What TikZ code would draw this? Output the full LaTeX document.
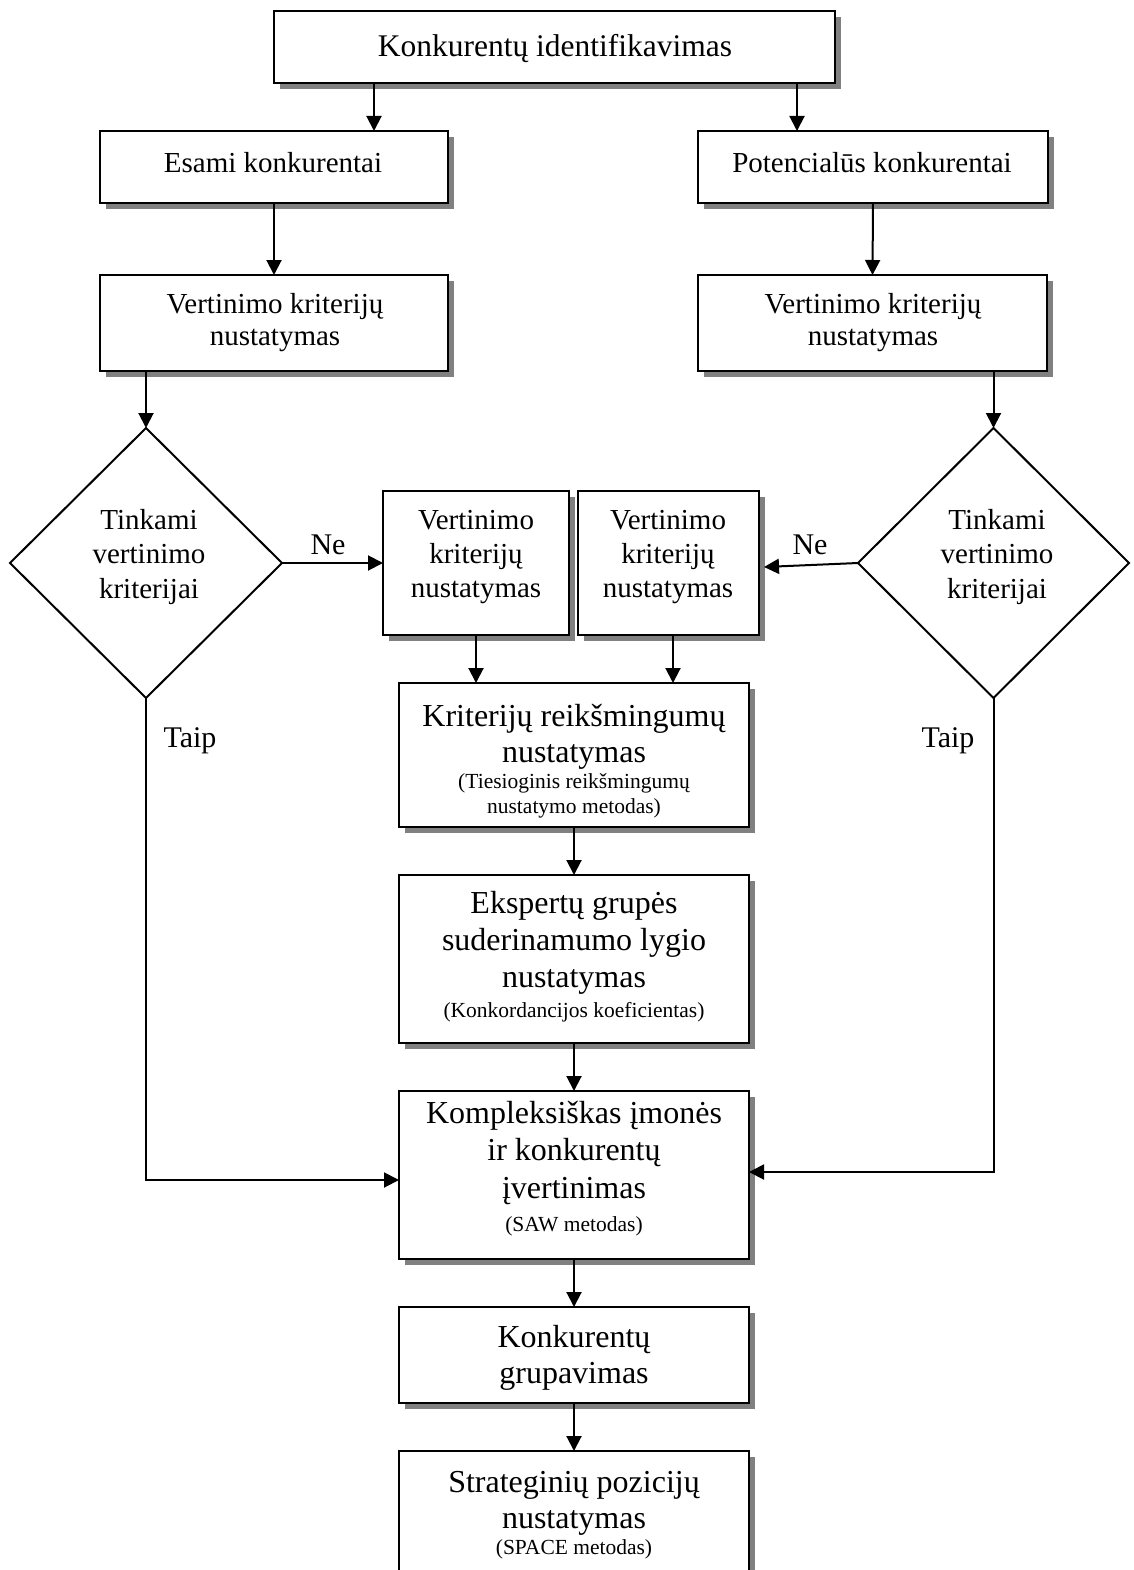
\documentclass[tikz,border=0pt]{standalone}
\usepackage{fontspec}
\setmainfont{Liberation Serif}
\usetikzlibrary{arrows.meta,shapes.geometric,shadows}
\begin{document}
\begin{tikzpicture}[x=1pt,y=-1pt,
  box/.style={draw, line width=2.2pt, fill=white, inner sep=0pt, outer sep=0pt,
    drop shadow={shadow xshift=6pt, shadow yshift=-6pt, opacity=1, fill=black!50}},
  decision/.style={draw, diamond, line width=2pt, inner sep=0pt, outer sep=0pt, fill=white},
  txt/.style={align=center, inner sep=0pt, font=\fontsize{29}{32}\selectfont},
  bigtxt/.style={align=center, inner sep=0pt, font=\fontsize{32}{36.5}\selectfont},
  smalltxt/.style={align=center, inner sep=0pt, font=\fontsize{21.5}{25}\selectfont},
  lbl/.style={inner sep=0pt, font=\fontsize{30}{34}\selectfont},
  arr/.style={line width=2pt, -{Triangle[length=15pt,width=15pt]}},
  conn/.style={line width=2pt}
]
% page
\fill[white] (0,0) rectangle (1133,1570);
\useasboundingbox (0,0) rectangle (1133,1570);
\clip (0,0) rectangle (1133,1570);

% boxes and decisions
\node[box, minimum width=561pt, minimum height=72pt] (top) at (554.5,47) {};
\node[box, minimum width=348pt, minimum height=72pt] (esami) at (274,167) {};
\node[box, minimum width=350pt, minimum height=72pt] (pot) at (873,167) {};
\node[box, minimum width=348pt, minimum height=96pt] (verL) at (274,323) {};
\node[box, minimum width=349pt, minimum height=96pt] (verR) at (872.5,323) {};
\node[decision, minimum width=272pt, minimum height=270pt] (dL) at (146,563) {};
\node[decision, minimum width=271pt, minimum height=270pt] (dR) at (993.5,563) {};
\node[box, minimum width=186pt, minimum height=144pt] (midL) at (476,563) {};
\node[box, minimum width=181pt, minimum height=144pt] (midR) at (668.5,563) {};
\node[box, minimum width=350pt, minimum height=144pt] (krit) at (574,755) {};
\node[box, minimum width=350pt, minimum height=168pt] (eksp) at (574,959) {};
\node[box, minimum width=350pt, minimum height=168pt] (komp) at (574,1175) {};
\node[box, minimum width=350pt, minimum height=96pt] (grup) at (574,1355) {};
\node[box, minimum width=350pt, minimum height=168pt] (strat) at (574,1535) {};

% texts
\node[txt, font=\fontsize{31.5}{36}\selectfont] (topT) at (555,49) {Konkurentų identifikavimas};
\node[txt] (esamiT) at (273,163) {Esami konkurentai};
\node[txt] (potT) at (872,163) {Potencialūs konkurentai};
\node[txt] (verLT) at (275,323) {Vertinimo kriterijų\\nustatymas};
\node[txt] (verRT) at (873,323) {Vertinimo kriterijų\\nustatymas};
\node[txt, font=\fontsize{29}{34.5}\selectfont] (dLT) at (149,557) {Tinkami\\vertinimo\\kriterijai};
\node[txt, font=\fontsize{29}{34.5}\selectfont] (dRT) at (997,557) {Tinkami\\vertinimo\\kriterijai};
\node[txt, font=\fontsize{29}{34}\selectfont] (midLT) at (476,557.5) {Vertinimo\\kriterijų\\nustatymas};
\node[txt, font=\fontsize{29}{34}\selectfont] (midRT) at (668,557.5) {Vertinimo\\kriterijų\\nustatymas};
\node[bigtxt] (kritT) at (574,737) {Kriterijų reikšmingumų\\nustatymas};
\node[smalltxt] (kritS) at (574,796) {(Tiesioginis reikšmingumų\\nustatymo metodas)};
\node[bigtxt, font=\fontsize{32}{37}\selectfont] (ekspT) at (574,943) {Ekspertų grupės\\suderinamumo lygio\\nustatymas};
\node[smalltxt] (ekspS) at (574,1012) {(Konkordancijos koeficientas)};
\node[bigtxt, font=\fontsize{32}{37.5}\selectfont] (kompT) at (574,1153) {Kompleksiškas įmonės\\ir konkurentų\\įvertinimas};
\node[smalltxt] (kompS) at (574,1226) {(SAW metodas)};
\node[bigtxt, font=\fontsize{32}{35.5}\selectfont] (grupT) at (574,1358) {Konkurentų\\grupavimas};
\node[bigtxt, font=\fontsize{32}{36}\selectfont] (stratT) at (574,1503) {Strateginių pozicijų\\nustatymas};
\node[smalltxt] (stratS) at (574,1549) {(SPACE metodas)};

% edge labels
\node[lbl] (neL) at (328,545) {Ne};
\node[lbl] (neR) at (810,545) {Ne};
\node[lbl] (taipL) at (190,741) {Taip};
\node[lbl] (taipR) at (948,741) {Taip};

% connector ends
\coordinate (toEsami) at ([xshift=100pt]esami.north);
\coordinate (toPot) at ([xshift=-76pt]pot.north);
\coordinate (fromMidR) at ([xshift=4.5pt]midR.south);
\coordinate (neTip) at ([xshift=5pt,yshift=-4pt]midR.east);
\coordinate (taipTipL) at ([yshift=-5pt]komp.west);
\coordinate (taipTipR) at ([yshift=3pt]komp.east);

% connectors
\draw[arr] (toEsami |- top.south) -- (toEsami);
\draw[arr] (toPot |- top.south) -- (toPot);
\draw[arr] (esami.south) -- (verL.north);
\draw[arr] (pot.south) -- (verR.north);
\draw[arr] (dL.north |- verL.south) -- (dL.north);
\draw[arr] (dR.north |- verR.south) -- (dR.north);
\draw[arr] (dL.east) -- (midL.west);
\draw[arr] (dR.west) -- (neTip);
\draw[arr] (midL.south) -- (midL.south |- krit.north);
\draw[arr] (fromMidR) -- (fromMidR |- krit.north);
\draw[arr] (krit.south) -- (eksp.north);
\draw[arr] (eksp.south) -- (komp.north);
\draw[arr] (dL.south) |- (taipTipL);
\draw[arr] (dR.south) |- (taipTipR);
\draw[arr] (komp.south) -- (grup.north);
\draw[arr] (grup.south) -- (strat.north);
\end{tikzpicture}
\end{document}
